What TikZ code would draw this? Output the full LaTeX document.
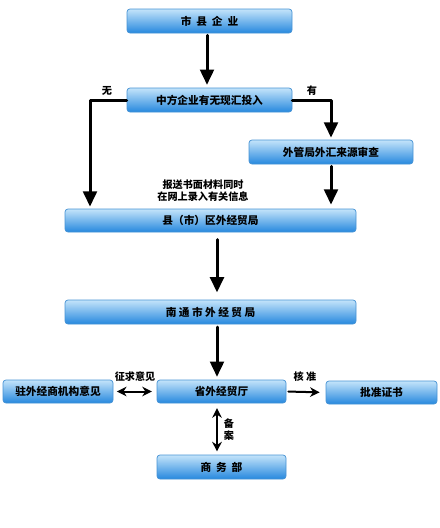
\documentclass[tikz,border=0pt]{standalone}
\usepackage{fontspec}
\newfontfamily\cjk{Noto Sans CJK SC}
\usepackage{tikz}
\usetikzlibrary{arrows.meta, calc, positioning}
\usepackage{xcolor}
\definecolor{boxtop}{RGB}{196, 228, 250}
\definecolor{boxmid}{RGB}{112, 186, 240}
\definecolor{boxbot}{RGB}{38, 136, 222}
\definecolor{boxline}{RGB}{70, 146, 212}
\tikzset{
    box/.style={draw=boxline, line width=0.5pt, rounded corners=0.075cm,
        top color=boxtop, middle color=boxmid, bottom color=boxbot,
        font=\cjk\bfseries\fontsize{7.6}{9}\selectfont, inner sep=0pt},
    bw/.style={minimum width=#1*0.025cm},
    bh/.style={minimum height=#1*0.025cm},
    bigarrow/.style={-{Triangle[length=0.38cm, width=0.34cm]}, line width=0.075cm},
    smallarrow/.style={line width=0.05cm},
    lbl/.style={font=\cjk\bfseries\fontsize{7.2}{8.6}\selectfont, inner sep=0pt, align=center}
}
\begin{document}
\begin{tikzpicture}[line cap=round, line join=round, x=0.025cm, y=-0.025cm]
    \useasboundingbox (0,0) rectangle (440,528);

    \node[box, bw=165, bh=24] (qy) at (209.5,21) {市\ \ 县\ \ 企\ \ 业};
    \node[box, bw=165, bh=24] (xh) at (209.5,100) {中方企业有无现汇投入};
    \node[box, bw=164, bh=24] (wg) at (331,152) {外管局外汇来源审查};
    \node[box, bw=291, bh=23] (xj) at (210.5,220.5) {县（市）区外经贸局};
    \node[box, bw=291, bh=24] (nt) at (210.5,312) {南\ 通\ 市\ 外\ 经\ 贸\ 局};
    \node[box, bw=129, bh=23] (sj) at (221.5,391.5) {省外经贸厅};
    \node[box, bw=110, bh=23] (zw) at (58,391.5) {驻外经商机构意见};
    \node[box, bw=111, bh=23] (pz) at (381.5,392.5) {批准证书};
    \node[box, bw=129, bh=24] (sw) at (221.5,467) {商\ \ 务\ \ 部};

    \coordinate (lft) at (90,100);
    \coordinate (mid) at (217,0);

    \draw[bigarrow, shorten <=0.05cm, shorten >=0.07cm] (qy.south -| 207,0) -- (xh.north -| 207,0);
    \draw[bigarrow, shorten >=0.05cm] (xh.west) -| (xj.north -| lft);
    \draw[bigarrow, shorten >=0.05cm] (xh.east) -| (wg.north);
    \draw[bigarrow, shorten <=0.05cm, shorten >=0.1cm] (wg.south) -- (xj.north -| wg.south);
    \draw[bigarrow, shorten <=0.18cm, shorten >=0.18cm] (xj.south -| mid) -- (nt.north -| mid);
    \draw[bigarrow, shorten <=0.07cm, shorten >=0.07cm] (nt.south -| mid) -- (sj.north -| mid);

    \draw[smallarrow, {Stealth[length=0.24cm, width=0.24cm]}-{Stealth[length=0.24cm, width=0.24cm]},
        shorten <=0.09cm, shorten >=0.12cm] (zw.east) -- (sj.west);
    \draw[smallarrow, -{Stealth[length=0.24cm, width=0.24cm]},
        shorten <=0.05cm, shorten >=0.15cm] (sj.east) -- (pz.west);
    \draw[smallarrow, {Stealth[length=0.24cm, width=0.24cm]}-{Stealth[length=0.24cm, width=0.24cm]},
        shorten <=0.12cm, shorten >=0.08cm] (sj.south -| mid) -- (sw.north -| mid);

    \node[lbl] (wu) at (107,91) {无};
    \node[lbl] (you) at (312,91) {有};
    \node[lbl] (bs) at (203,191) {报送书面材料同时\\在网上录入有关信息};
    \node[lbl] (zq) at (135,377) {征求意见};
    \node[lbl] (hz) at (305,377) {核\ 准};
    \node[lbl] (ba) at (229,430) {备\\案};
\end{tikzpicture}
\end{document}
